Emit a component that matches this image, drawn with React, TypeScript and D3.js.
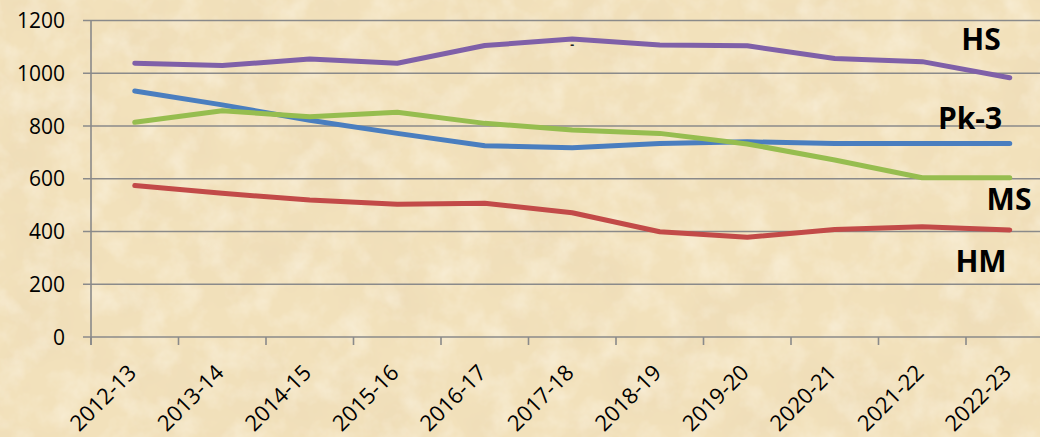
import React, { useEffect, useRef } from 'react';
import * as d3 from 'd3';

const years = [
  '2012-13', '2013-14', '2014-15', '2015-16', '2016-17', '2017-18',
  '2018-19', '2019-20', '2020-21', '2021-22', '2022-23',
];

const hs = [1038, 1029, 1054, 1038, 1105, 1130, 1107, 1104, 1056, 1044, 983];
const pk3 = [933, 880, 822, 772, 725, 718, 734, 740, 734, 734, 734];
const ms = [814, 858, 835, 852, 810, 785, 772, 732, 671, 604, 604];
const hm = [574, 545, 519, 503, 507, 471, 399, 378, 408, 418, 406];

const yTicks = [0, 200, 400, 600, 800, 1000, 1200];

interface Series {
  name: string;
  values: number[];
  color: string;
}

const series: Series[] = [
  { name: 'HS', values: hs, color: '#7f60a8' },
  { name: 'Pk-3', values: pk3, color: '#4a7ebf' },
  { name: 'MS', values: ms, color: '#96bd4f' },
  { name: 'HM', values: hm, color: '#c24a48' },
];

// where the bold series names sit (y in data units)
const seriesLabels = [
  { name: 'HS', value: 1090 },
  { name: 'Pk-3', value: 790 },
  { name: 'MS', value: 480 },
  { name: 'HM', value: 248 },
];

const App: React.FC = () => {
  const chartRef = useRef<SVGSVGElement | null>(null);

  useEffect(() => {
    const W = 1040;
    const H = 437;
    const margin = { top: 20.5, left: 91 };
    const bottom = 337;
    const plotRight = 1053.5;

    const svg = d3.select(chartRef.current);
    svg.selectAll('*').remove();
    svg.attr('width', W).attr('height', H);

    // parchment background
    const defs = svg.append('defs');
    const f = defs
      .append('filter')
      .attr('id', 'paper')
      .attr('x', 0)
      .attr('y', 0)
      .attr('width', '100%')
      .attr('height', '100%');
    f.append('feTurbulence')
      .attr('type', 'fractalNoise')
      .attr('baseFrequency', '0.014')
      .attr('numOctaves', 5)
      .attr('seed', 7)
      .attr('result', 'n');
    f.append('feColorMatrix')
      .attr('in', 'n')
      .attr('type', 'matrix')
      .attr('values', '0 0 0 0 0.84  0 0 0 0 0.70  0 0 0 0 0.47  1.3 0 0 0 -0.52');

    const f2 = defs
      .append('filter')
      .attr('id', 'speck')
      .attr('x', 0)
      .attr('y', 0)
      .attr('width', '100%')
      .attr('height', '100%');
    f2.append('feTurbulence')
      .attr('type', 'fractalNoise')
      .attr('baseFrequency', '0.035')
      .attr('numOctaves', 4)
      .attr('seed', 2)
      .attr('result', 'n');
    f2.append('feColorMatrix')
      .attr('in', 'n')
      .attr('type', 'matrix')
      .attr('values', '0 0 0 0 0.98  0 0 0 0 0.93  0 0 0 0 0.81  0 1.0 0 0 -0.42');

    svg.append('rect').attr('width', W).attr('height', H).attr('fill', '#f2e1bb');
    svg.append('rect').attr('width', W).attr('height', H).attr('filter', 'url(#paper)');
    svg.append('rect').attr('width', W).attr('height', H).attr('filter', 'url(#speck)');

    // scales
    const x = d3.scaleBand().domain(years).range([margin.left, plotRight]);
    const y = d3.scaleLinear().domain([0, 1200]).range([bottom, margin.top]);
    const cx = (d: string) => x(d)! + x.bandwidth() / 2;

    const axisColor = '#8a8a8a';
    const font = "'Open Sans', 'Liberation Sans', sans-serif";

    // gridlines + y ticks
    const g = svg.append('g');
    g.selectAll('.grid')
      .data(yTicks)
      .enter()
      .append('line')
      .attr('x1', margin.left - 8)
      .attr('x2', plotRight)
      .attr('y1', (d) => y(d))
      .attr('y2', (d) => y(d))
      .attr('stroke', axisColor)
      .attr('stroke-width', 1.6);

    g.selectAll('.ylab')
      .data(yTicks)
      .enter()
      .append('text')
      .attr('x', 65)
      .attr('y', (d) => y(d))
      .attr('dy', '0.36em')
      .attr('text-anchor', 'end')
      .attr('font-family', font)
      .attr('font-size', 21)
      .attr('fill', '#000')
      .text((d) => d);

    // y axis line
    g.append('line')
      .attr('x1', margin.left)
      .attr('x2', margin.left)
      .attr('y1', margin.top)
      .attr('y2', bottom + 8)
      .attr('stroke', axisColor)
      .attr('stroke-width', 1.6);

    // x ticks at band edges
    const edges = years.map((d) => x(d)!).concat([plotRight]);
    g.selectAll('.xtick')
      .data(edges)
      .enter()
      .append('line')
      .attr('x1', (d) => d)
      .attr('x2', (d) => d)
      .attr('y1', bottom)
      .attr('y2', bottom + 8)
      .attr('stroke', axisColor)
      .attr('stroke-width', 1.6);

    g.selectAll('.xlab')
      .data(years)
      .enter()
      .append('text')
      .attr('transform', (d) => `translate(${cx(d) + 3},${bottom + 37}) rotate(-45)`)
      .attr('text-anchor', 'end')
      .attr('font-family', font)
      .attr('font-size', 22)
      .attr('fill', '#000')
      .text((d) => d);

    // lines
    const line = d3
      .line<number>()
      .x((_, i) => cx(years[i]))
      .y((d) => y(d));

    svg
      .selectAll('.series')
      .data(series)
      .enter()
      .append('path')
      .attr('d', (d) => line(d.values))
      .attr('fill', 'none')
      .attr('stroke', (d) => d.color)
      .attr('stroke-width', 5)
      .attr('stroke-linecap', 'round')
      .attr('stroke-linejoin', 'round');

    // stray dash above the HS peak
    svg
      .append('text')
      .attr('x', cx(years[5]) - 2)
      .attr('y', y(hs[5]) + 10)
      .attr('font-family', font)
      .attr('font-size', 12)
      .attr('font-weight', 'bold')
      .attr('fill', '#222')
      .text('-');

    // series names
    svg
      .selectAll('.name')
      .data(seriesLabels)
      .enter()
      .append('text')
      .attr('x', (d) => (d.name === 'MS' ? 1009 : d.name === 'Pk-3' ? 970 : 981))
      .attr('y', (d) => y(d.value))
      .attr('text-anchor', 'middle')
      .attr('font-family', font)
      .attr('font-size', 30)
      .attr('font-weight', 'bold')
      .attr('fill', '#000')
      .text((d) => d.name);
  }, []);

  return (
    <svg
      ref={chartRef}
      style={{ position: 'fixed', left: 0, top: 0, display: 'block' }}
    ></svg>
  );
};

export default App;
